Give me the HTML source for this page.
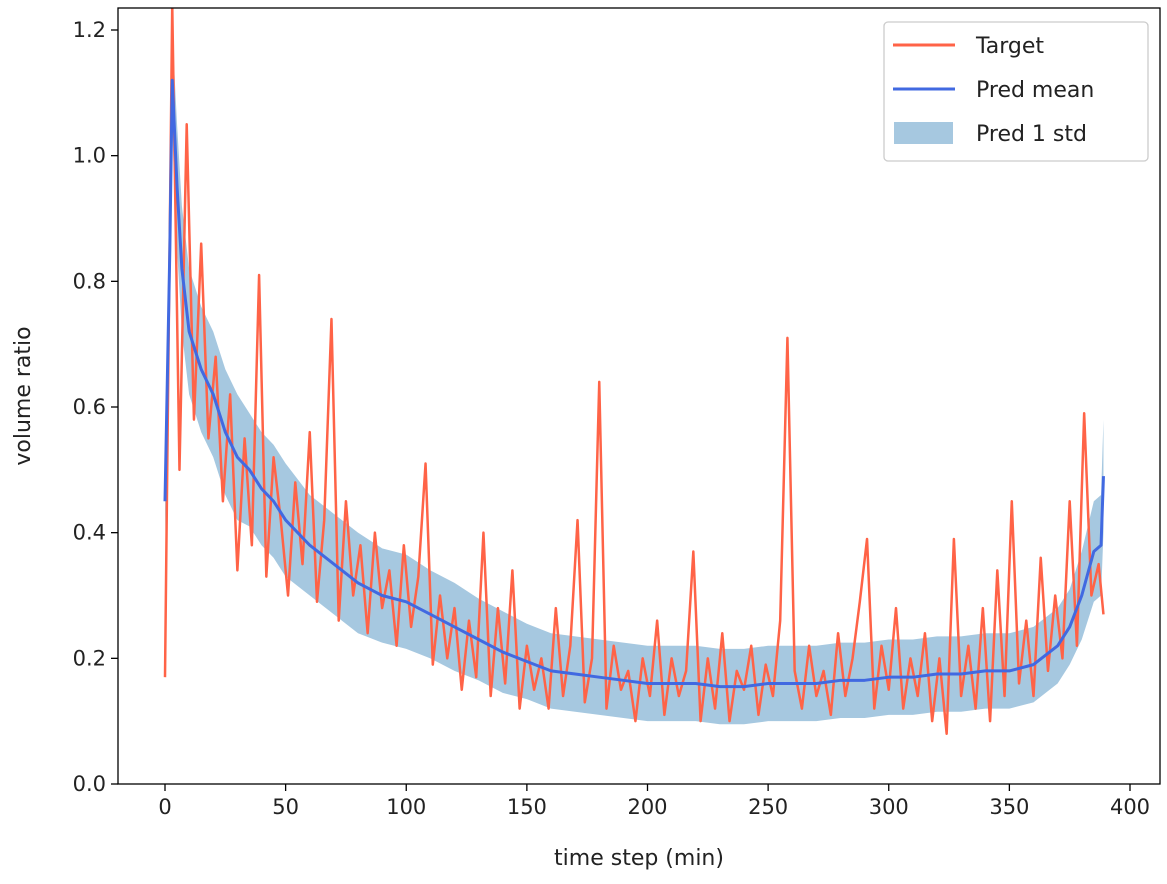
<!DOCTYPE html>
<html><head><meta charset="utf-8"><style>
body{margin:0;background:#fff;}
svg text{font-family:"DejaVu Sans","Liberation Sans",sans-serif;fill:#222;}
</style></head><body>
<svg id="chart" width="1167" height="879" xmlns="http://www.w3.org/2000/svg"></svg>
<script>
const targetTimes=[0,3,6,9,12,15,18,21,24,27,30,33,36,39,42,45,48,51,54,57,60,63,66,69,72,75,78,81,84,87,90,93,96,99,102,105,108,111,114,117,120,123,126,129,132,135,138,141,144,147,150,153,156,159,162,165,168,171,174,177,180,183,186,189,192,195,198,201,204,207,210,213,216,219,222,225,228,231,234,237,240,243,246,249,252,255,258,261,264,267,270,273,276,279,282,285,288,291,294,297,300,303,306,309,312,315,318,321,324,327,330,333,336,339,342,345,348,351,354,357,360,363,366,369,372,375,378,381,384,387,389];
const targetValues=[0.17,1.24,0.50,1.05,0.58,0.86,0.55,0.68,0.45,0.62,0.34,0.55,0.38,0.81,0.33,0.52,0.42,0.30,0.48,0.35,0.56,0.29,0.42,0.74,0.26,0.45,0.30,0.38,0.24,0.40,0.28,0.34,0.22,0.38,0.25,0.33,0.51,0.19,0.30,0.20,0.28,0.15,0.26,0.17,0.40,0.14,0.28,0.16,0.34,0.12,0.22,0.15,0.20,0.12,0.28,0.14,0.22,0.42,0.13,0.20,0.64,0.12,0.22,0.15,0.18,0.10,0.20,0.14,0.26,0.11,0.20,0.14,0.18,0.37,0.10,0.20,0.12,0.24,0.10,0.18,0.15,0.22,0.11,0.19,0.14,0.26,0.71,0.18,0.12,0.22,0.14,0.18,0.11,0.24,0.14,0.20,0.29,0.39,0.12,0.22,0.15,0.28,0.12,0.20,0.14,0.24,0.10,0.20,0.08,0.39,0.14,0.22,0.12,0.28,0.10,0.34,0.14,0.45,0.16,0.26,0.14,0.36,0.18,0.30,0.20,0.45,0.22,0.59,0.30,0.35,0.27];
const predTimes=[0,2,3,5,7,10,15,20,25,30,35,40,45,50,60,70,80,90,100,110,120,130,140,150,160,170,180,190,200,210,220,230,240,250,260,270,280,290,300,310,320,330,340,350,360,370,375,380,385,388,389];
const predMean=[0.45,0.85,1.12,0.95,0.82,0.72,0.66,0.62,0.56,0.52,0.50,0.47,0.45,0.42,0.38,0.35,0.32,0.30,0.29,0.27,0.25,0.23,0.21,0.195,0.18,0.175,0.17,0.165,0.16,0.16,0.16,0.155,0.155,0.16,0.16,0.16,0.165,0.165,0.17,0.17,0.175,0.175,0.18,0.18,0.19,0.22,0.25,0.30,0.37,0.38,0.49];
const predStd=[0.05,0.08,0.08,0.10,0.10,0.10,0.10,0.10,0.10,0.10,0.09,0.09,0.09,0.09,0.08,0.08,0.08,0.075,0.075,0.07,0.07,0.065,0.065,0.06,0.06,0.06,0.06,0.06,0.06,0.06,0.06,0.06,0.06,0.06,0.06,0.06,0.06,0.06,0.06,0.06,0.06,0.06,0.06,0.06,0.06,0.06,0.06,0.07,0.08,0.08,0.09];
const xTicks=[0,50,100,150,200,250,300,350,400];
const yTicks=[0.0,0.2,0.4,0.6,0.8,1.0,1.2];

const NS="http://www.w3.org/2000/svg";
const svg=document.getElementById('chart');
const L=118,R=1160,T=8,B=784;
const X=v=>165+v*(1130-165)/400;
const Y=v=>784-v*(784-30)/1.2;
function el(tag,attrs,parent){const e=document.createElementNS(NS,tag);for(const k in attrs)e.setAttribute(k,attrs[k]);(parent||svg).appendChild(e);return e;}

const clip=el('clipPath',{id:'pc'});el('rect',{x:L,y:T,width:R-L,height:B-T},clip);
const plot=el('g',{'clip-path':'url(#pc)'});



// band
let up=predTimes.map((t,i)=>X(t)+','+Y(predMean[i]+predStd[i]));
let dn=predTimes.map((t,i)=>X(t)+','+Y(Math.max(0,predMean[i]-predStd[i]))).reverse();
const band=el('polygon',{points:up.concat(dn).join(' '),fill:'#a6c8e0',stroke:'none'},plot);



const tl=el('polyline',{points:targetTimes.map((t,i)=>X(t)+','+Y(targetValues[i])).join(' '),fill:'none',stroke:'#ff6347','stroke-width':2.5,'stroke-linejoin':'round'},plot);



const pl=el('polyline',{points:predTimes.map((t,i)=>X(t)+','+Y(predMean[i])).join(' '),fill:'none',stroke:'#4169e1','stroke-width':3,'stroke-linejoin':'round'},plot);



const frame=el('rect',{x:L,y:T,width:R-L,height:B-T,fill:'none',stroke:'#000','stroke-width':1.3});



xTicks.forEach(v=>{
  el('line',{x1:X(v),x2:X(v),y1:B,y2:B+7,stroke:'#000','stroke-width':1.3});
  const t=el('text',{x:X(v),y:B+30,'text-anchor':'middle','font-size':21});t.textContent=v;
  
  
});
yTicks.forEach(v=>{
  el('line',{x1:L-7,x2:L,y1:Y(v),y2:Y(v),stroke:'#000','stroke-width':1.3});
  const t=el('text',{x:L-12,y:Y(v)+7,'text-anchor':'end','font-size':21});t.textContent=v.toFixed(1);
  
  
});
const xt=el('text',{x:639,y:865,'text-anchor':'middle','font-size':22});xt.textContent='time step (min)';


const yt=el('text',{x:0,y:0,'text-anchor':'middle','font-size':22,transform:'translate(30,396) rotate(-90)'});yt.textContent='volume ratio';



// legend
const lg=el('g',{});


el('rect',{x:884,y:22,width:264,height:139,rx:4,fill:'#fff',stroke:'#ccc','stroke-width':1.3},lg);
const items=[['Target','line','#ff6347'],['Pred mean','line','#4169e1'],['Pred 1 std','patch','#a6c8e0']];
items.forEach((it,i)=>{
  const g=el('g',{},lg);
  
  
  const cy=45+i*44;
  if(it[1]=='line')el('line',{x1:893,x2:955,y1:cy,y2:cy,stroke:it[2],'stroke-width':3},g);
  else el('rect',{x:894,y:cy-11,width:59,height:22,fill:it[2]},g);
  const t=el('text',{x:976,y:cy+8,'font-size':22},g);t.textContent=it[0];
});
</script>
</body></html>
